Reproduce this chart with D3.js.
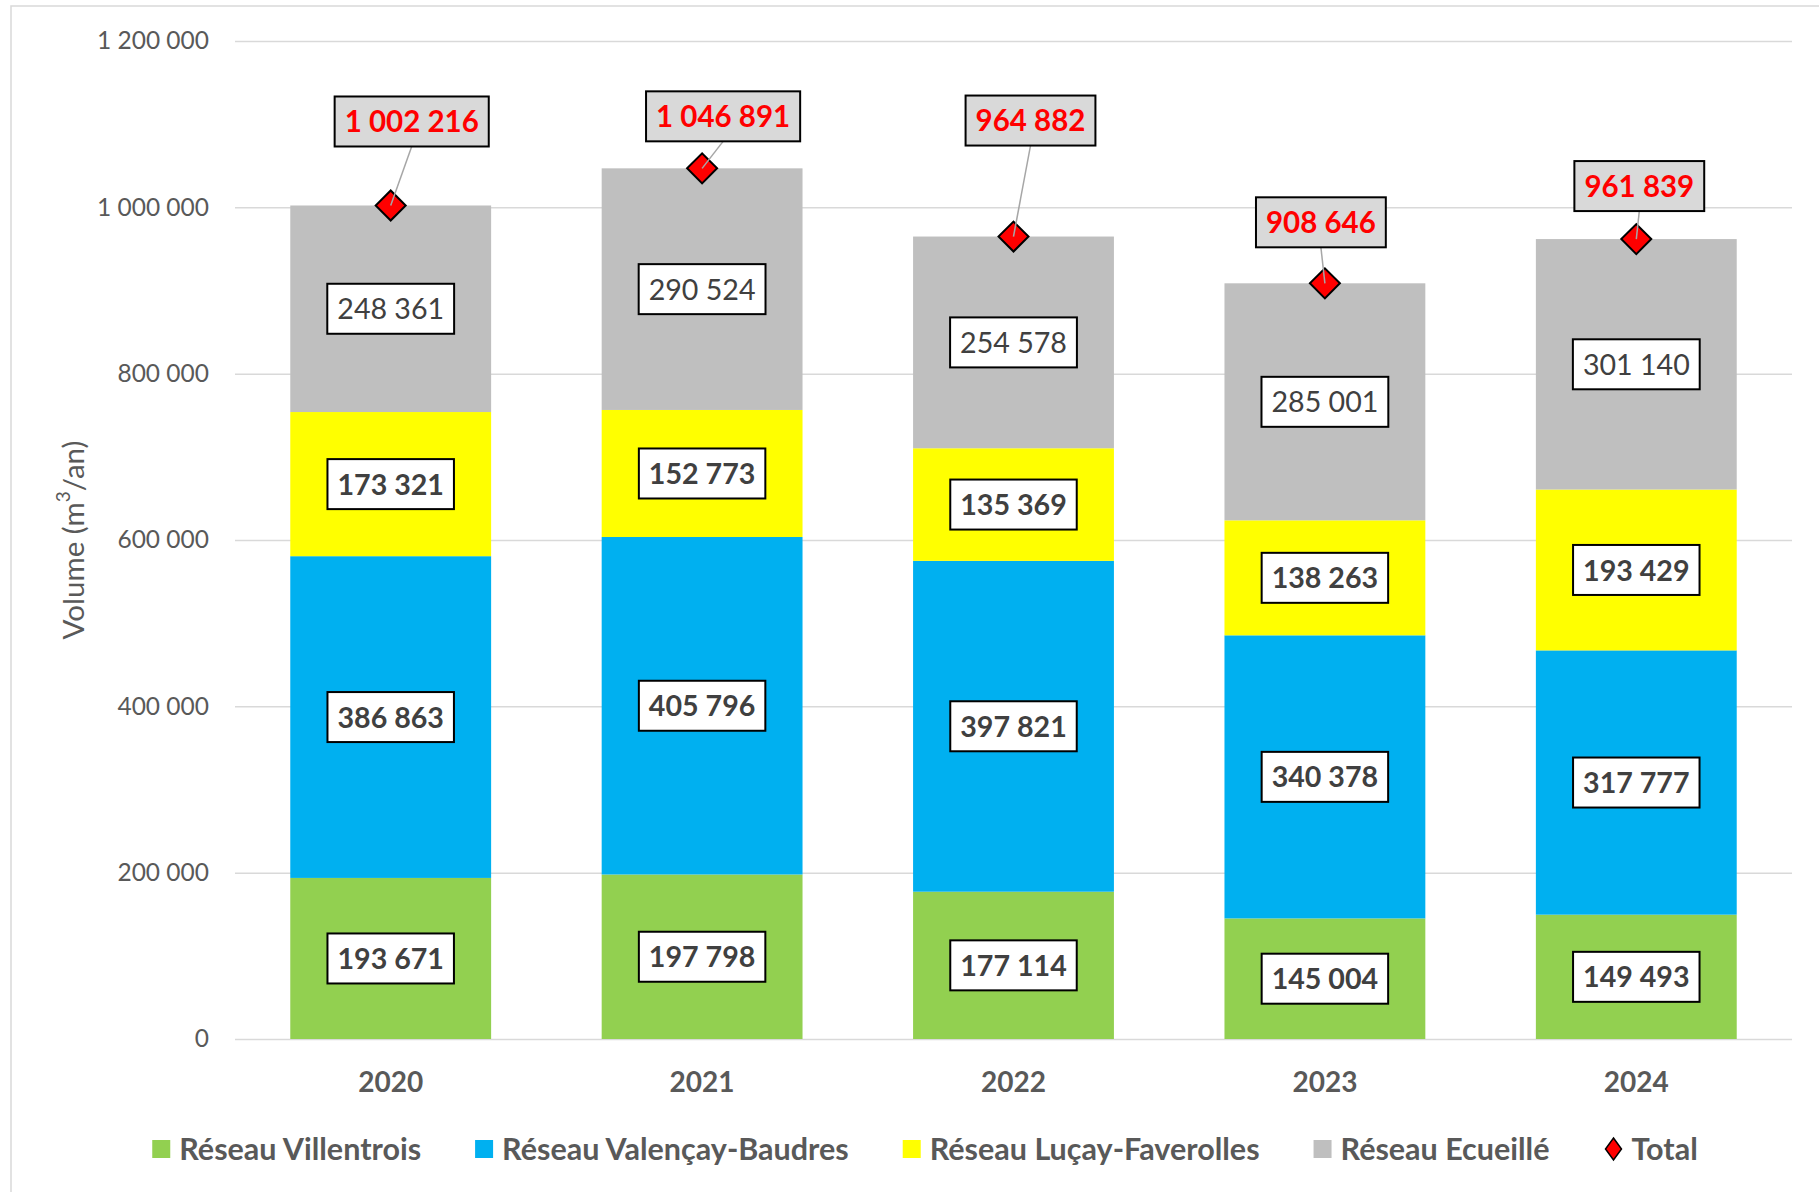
<!DOCTYPE html>
<html>
<head>
<meta charset="utf-8">
<script src="https://cdn.jsdelivr.net/npm/d3@7"></script>
<style>
  body { margin: 0; background: #fff; }
  svg { display: block; font-family: Lato, sans-serif; }
</style>
</head>
<body>
<div id="chart"></div>
<script>
// valeurs (m3/an)
var years = ['2020', '2021', '2022', '2023', '2024'];
var villentrois = [193671, 197798, 177114, 145004, 149493];
var valencay = [386863, 405796, 397821, 340378, 317777];
var lucay = [173321, 152773, 135369, 138263, 193429];
var ecueille = [248361, 290524, 254578, 285001, 301140];
var totals = [1002216, 1046891, 964882, 908646, 961839];
var yTicks = [0, 200000, 400000, 600000, 800000, 1000000, 1200000];

var seriesNames = ['Réseau Villentrois', 'Réseau Valençay-Baudres', 'Réseau Luçay-Faverolles', 'Réseau Ecueillé'];
var seriesKeys = ['villentrois', 'valencay', 'lucay', 'ecueille'];
var colors = ['#92d050', '#00b0f0', '#ffff00', '#bfbfbf'];
var boldLabels = [true, true, true, false];
// décalage manuel des étiquettes du total (comme dans Excel)
var totalOffsets = [[21, -84], [21, -52], [17, -116], [-4, -61], [3, -53]];

(function () {
  var W = 1819, H = 1192;
  var pLeft = 235, pRight = 1792, pTop = 41, pBottom = 1039;

  var fr = d3.formatLocale({ decimal: ',', thousands: ' ', grouping: [3], currency: ['', ''] });
  var fmt = fr.format(',d');

  var table = years.map(function (y, i) {
    return { year: y, villentrois: villentrois[i], valencay: valencay[i], lucay: lucay[i], ecueille: ecueille[i], total: totals[i] };
  });

  var svg = d3.select('#chart').append('svg').attr('width', W).attr('height', H);
  svg.append('rect').attr('width', W).attr('height', H).attr('fill', '#fff');
  svg.append('rect').attr('x', 11).attr('y', 6).attr('width', W + 20).attr('height', H + 20)
    .attr('fill', 'none').attr('stroke', '#d9d9d9').attr('stroke-width', 1.5);

  var x = d3.scaleBand().domain(years).range([pLeft, pRight]).paddingInner(0.355).paddingOuter(0.1775);
  var y = d3.scaleLinear().domain([0, 1200000]).range([pBottom, pTop]);

  // grille + axe Y
  var gy = svg.append('g').attr('transform', 'translate(' + pLeft + ',0)')
    .call(d3.axisLeft(y).tickValues(yTicks).tickSize(-(pRight - pLeft)).tickPadding(26).tickFormat(fmt));
  gy.select('.domain').remove();
  gy.selectAll('.tick line').attr('stroke', '#d9d9d9').attr('stroke-width', 1.5);
  gy.selectAll('.tick text').attr('fill', '#595959').style('font-size', '24.5px').style('font-family', 'Lato, sans-serif');

  // axe X
  var gx = svg.append('g').attr('transform', 'translate(0,' + pBottom + ')')
    .call(d3.axisBottom(x).tickSize(0).tickPadding(33));
  gx.select('.domain').remove();
  gx.selectAll('.tick text').attr('fill', '#595959').style('font-size', '28px')
    .style('font-weight', 'bold').style('font-family', 'Lato, sans-serif');

  // titre axe Y
  var yt = svg.append('text').attr('transform', 'translate(72,' + ((pTop + pBottom) / 2) + ') rotate(-90)')
    .attr('text-anchor', 'middle').attr('dominant-baseline', 'central')
    .attr('fill', '#595959').style('font-size', '29.5px');
  yt.append('tspan').text('Volume (m');
  yt.append('tspan').text('3').style('font-size', '19px').attr('dy', -10);
  yt.append('tspan').text('/an)').attr('dy', 10);

  // barres empilées
  var stack = d3.stack().keys(seriesKeys)(table);
  var layers = svg.append('g').selectAll('g').data(stack).join('g')
    .attr('fill', function (d, i) { return colors[i]; });
  layers.selectAll('rect').data(function (d) { return d; }).join('rect')
    .attr('x', function (d) { return x(d.data.year); })
    .attr('width', x.bandwidth())
    .attr('y', function (d) { return y(d[1]); })
    .attr('height', function (d) { return y(d[0]) - y(d[1]); });

  function labelBox(g, txt, opts) {
    var t = g.append('text').attr('text-anchor', 'middle').attr('y', opts.size * 0.37)
      .attr('fill', opts.color).style('font-size', opts.size + 'px')
      .style('font-weight', opts.bold ? 'bold' : 'normal').text(txt);
    var w = t.node().getComputedTextLength() + 20, h = 50;
    g.insert('rect', 'text').attr('x', -w / 2).attr('y', -h / 2).attr('width', w).attr('height', h)
      .attr('fill', opts.fill).attr('stroke', '#000').attr('stroke-width', 2);
  }

  // étiquettes des segments
  stack.forEach(function (layer, si) {
    layer.forEach(function (d) {
      var g = svg.append('g').attr('transform', 'translate(' + (x(d.data.year) + x.bandwidth() / 2) + ',' + y((d[0] + d[1]) / 2) + ')');
      labelBox(g, fmt(d[1] - d[0]), { size: 28.6, bold: boldLabels[si], color: '#404040', fill: '#fff' });
    });
  });

  // total : losanges, traits de rappel, étiquettes
  var diamond = d3.symbol().type(d3.symbolSquare).size(450);
  table.forEach(function (d, i) {
    var px = x(d.year) + x.bandwidth() / 2, py = y(d.total);
    var bx = px + totalOffsets[i][0], by = py + totalOffsets[i][1];
    svg.append('path').attr('d', diamond()).attr('transform', 'translate(' + px + ',' + py + ') rotate(45)')
      .attr('fill', '#ff0000').attr('stroke', '#000').attr('stroke-width', 2);
    svg.append('line').attr('x1', bx).attr('y1', by + 25).attr('x2', px).attr('y2', py)
      .attr('stroke', '#a6a6a6').attr('stroke-width', 1.5);
    var g = svg.append('g').attr('transform', 'translate(' + bx + ',' + by + ')');
    labelBox(g, fmt(d.total), { size: 29.5, bold: true, color: '#ff0000', fill: '#d9d9d9' });
  });

  // légende
  var legY = 1149;
  var leg = svg.append('g');
  var items = seriesNames.concat(['Total']);
  var cx = 0;
  items.forEach(function (name, i) {
    var g = leg.append('g').attr('transform', 'translate(' + cx + ',0)');
    if (i < 4) {
      g.append('rect').attr('x', 0).attr('y', legY - 9).attr('width', 18).attr('height', 18).attr('fill', colors[i]);
    } else {
      g.append('path').attr('d', 'M0,-11L8,0L0,11L-8,0Z')
        .attr('transform', 'translate(10,' + legY + ')')
        .attr('fill', '#ff0000').attr('stroke', '#000').attr('stroke-width', 1.5);
    }
    var tx = i < 4 ? 27 : 28;
    var t = g.append('text').attr('x', tx).attr('y', legY + 11)
      .attr('fill', '#595959').style('font-size', '30.5px').style('font-weight', 'bold').text(name);
    cx += tx + t.node().getComputedTextLength() + 54;
  });
  var legW = cx - 54;
  leg.attr('transform', 'translate(' + (925 - legW / 2) + ',0)');
})();
</script>
</body>
</html>
